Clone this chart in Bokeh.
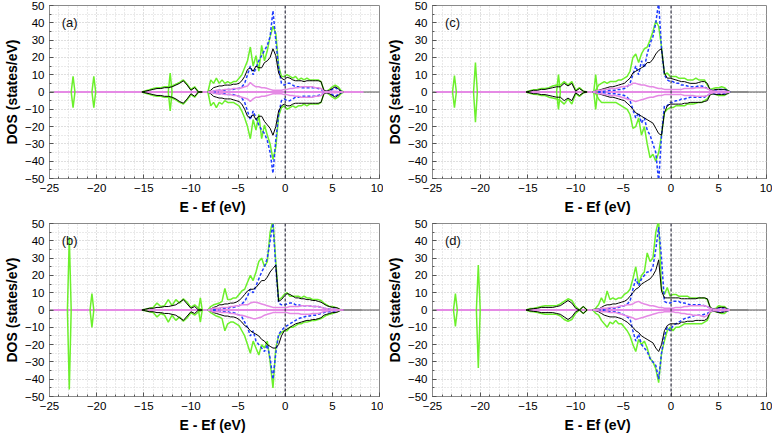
import numpy as np
from bokeh.plotting import figure
from bokeh.layouts import gridplot
from bokeh.models import Range1d, SingleIntervalTicker, Span, Label
from bokeh.embed import file_html
from bokeh.resources import INLINE

# ---------------- energy grids (eV, relative to Ef) ----------------
E_main = np.round(np.arange(-8.2, 6.21, 0.3), 2)   # 49 points
E_low = np.round(np.arange(-15.2, -8.79, 0.4), 2)  # 17 points

# ---------------- panel (a) ----------------
a_green_up = [0, 7, 5, 8, 5, 7, 5,
              6, 5, 6, 6, 8, 10, 14,
              18, 26, 15, 21, 12, 27, 18,
              24, 32, 38, 34, 15, 9, 9,
              10, 9, 8, 9, 7, 8, 7,
              8, 7, 7, 7, 7, 6, 1,
              0.5, 1.5, 3, 4, 3, 1, 0]
a_green_dn = [0, 8, 6, 9, 6, 7, 5,
              6, 6, 6, 7, 8, 11, 15,
              20, 27, 16, 22, 13, 27, 19,
              25, 30, 39, 32, 14, 9, 8,
              10, 9, 8, 9, 8, 8, 7,
              8, 7, 7, 7, 7, 6, 1,
              0.5, 1.5, 3, 4, 3, 1, 0]
a_black_up = [0, 1, 2.5, 3, 3.5, 3.5, 4,
              4, 4, 4.5, 4.5, 5, 6.5, 9,
              13, 14, 12, 15, 14, 14, 17,
              18, 20, 25, 21, 11, 8, 7,
              8.5, 8, 7, 6.5, 6.5, 6.5, 6,
              6.5, 6.5, 6.5, 6.5, 6.5, 6, 1,
              0.5, 1, 2, 3, 2, 0.5, 0]
a_black_dn = [0, 1, 2.5, 3, 3.5, 3.5, 4,
              4, 4, 4.5, 5, 5.5, 7, 10,
              14, 15, 13, 16, 14, 14, 17,
              19, 21, 25, 20, 11, 8, 7,
              8, 8, 7, 6.5, 6.5, 6.5, 6.5,
              6.5, 6.5, 6.5, 6.5, 6.5, 6, 1,
              0.5, 1, 2, 3, 2, 0.5, 0]
a_blue_up = [0, 0.5, 0.5, 0.5, 1, 1, 1,
             1.5, 1.5, 1.5, 2, 2, 3, 5,
             10, 15, 10, 14, 18, 21, 24,
             27, 32, 47, 30, 14, 5, 4,
             5, 5, 4, 3, 3, 2.5, 2.5,
             2.5, 2.5, 2.5, 2.5, 2, 1.5, 0.5,
             0.3, 0.5, 1.5, 2.5, 1.5, 0.5, 0]
a_blue_dn = [0, 0.5, 0.5, 0.5, 1, 1, 1,
             1.5, 1.5, 1.5, 2, 2.5, 3.5, 6,
             11, 16, 11, 15, 19, 22, 24,
             28, 35, 47, 28, 13, 5, 4,
             5, 5, 4, 3, 3, 2.5, 2.5,
             2.5, 2.5, 2.5, 2.5, 2, 1.5, 0.5,
             0.3, 0.5, 1.5, 2.5, 1.5, 0.5, 0]
a_violet_up = [0, 0.5, 0.5, 1, 1, 1, 1.5,
               1.5, 1.5, 2, 2, 2, 2.5, 3,
               3.5, 5.5, 4, 3, 3, 2.5, 2.5,
               2, 1.5, 1, 1, 1, 1, 1.5,
               1.5, 2, 2, 2.5, 2.5, 3, 3,
               3, 3, 3, 2.5, 2.5, 2, 0.5,
               0.3, 0.3, 0.5, 0.5, 0.3, 0.2, 0]
a_violet_dn = [0, 0.5, 0.5, 1, 1, 1, 1.5,
               1.5, 1.5, 2, 2, 2.5, 3, 3.5,
               4, 5.5, 4, 3, 3, 2.5, 2.5,
               2, 1.5, 1, 1, 1, 1, 1.5,
               1.5, 2, 2, 2.5, 2.5, 3, 3,
               3, 3, 3, 2.5, 2.5, 2, 0.5,
               0.3, 0.3, 0.5, 0.5, 0.3, 0.2, 0]
a_low_green_up = [0, 0.8, 1.3, 2, 2.5, 2.5, 3, 3, 3.5, 4.5, 5.5, 7, 4.5, 1.5, 3, 0, 0]
a_low_green_dn = [0, 0.8, 1.3, 2, 2.5, 2.5, 3, 3, 3.5, 4.5, 6, 7, 4.5, 1.5, 3, 0, 0]
a_low_black_up = [0, 0.5, 1, 1.5, 2, 2, 2.5, 2.5, 3, 4, 5, 6.5, 4, 1, 2.5, 0, 0]
a_low_black_dn = [0, 0.5, 1, 1.5, 2, 2, 2.5, 2.5, 3, 4, 5.5, 6.5, 4, 1, 2.5, 0, 0]
a_spike_E = [-22.5, -20.3, -12.2]
a_spike_up = [9, 9, 11]
a_spike_dn = [9, 9, 11]
a_base = [-24.5, 8.3]

# ---------------- panel (b) ----------------
b_green_up = [0, 2, 3, 3.5, 4, 5, 12.5,
              6, 6, 7, 7, 9, 11, 12,
              16, 20, 17, 22, 28, 30, 25,
              28, 45, 52, 28, 6, 7, 9,
              10, 8, 8, 8, 8, 7, 8,
              7, 7, 6, 6, 6, 5.5, 4,
              3, 2, 2, 1.5, 1, 0, 0]
b_green_dn = [0, 1.5, 2.5, 3.5, 4, 5, 12,
              8, 7, 7, 8, 9, 12, 15,
              20, 25, 18, 22, 26, 20, 22,
              18, 30, 45, 22, 15, 13, 12,
              12, 10, 10, 9, 8, 8, 7,
              7, 6.5, 6, 6, 5.5, 5, 4,
              3, 2.5, 2, 1.5, 1, 0, 0]
b_black_up = [0, 0.5, 1.5, 2, 3, 3, 3.5,
              3.5, 4, 4, 4.5, 5.5, 7, 9,
              11, 12, 12, 13, 15, 17, 17,
              19, 22, 24, 26, 5, 6, 8,
              9.5, 9, 8, 7, 7, 6.5, 6.5,
              6, 6, 5.5, 5.5, 5, 4.5, 3.5,
              2.5, 2, 1.5, 1.5, 1, 0, 0]
b_black_dn = [0, 0.5, 1.5, 2, 2.5, 3, 3.5,
              3.5, 4, 4, 4.5, 5.5, 7, 9,
              10, 12, 13, 14, 15, 17, 18,
              20, 21, 22, 22, 20, 15, 12,
              11, 10, 9, 8, 7.5, 7, 6.5,
              6, 6, 5.5, 5.5, 5, 4.5, 3,
              2.5, 2, 1.5, 1.5, 1, 0, 0]
b_blue_up = [0, 0.3, 0.5, 0.5, 0.8, 1, 1,
             1, 1.5, 1.5, 2, 2.5, 3.5, 5,
             8, 12, 10, 14, 18, 22, 25,
             30, 40, 50, 25, 4, 3, 3,
             3.5, 4, 4, 3, 3, 2.5, 2.5,
             2.5, 2.5, 2, 2, 2, 1.5, 1,
             0.8, 0.5, 0.5, 0.5, 0.3, 0, 0]
b_blue_dn = [0, 0.3, 0.5, 0.5, 0.8, 1, 1,
             1, 1.5, 1.5, 2, 3, 4, 7,
             10, 15, 12, 18, 20, 22, 24,
             20, 28, 40, 25, 14, 12, 10,
             9, 8, 7, 6, 5, 4.5, 4,
             3.5, 3.5, 3, 3, 2.5, 2, 1.5,
             1, 1, 1, 0.8, 0.5, 0, 0]
b_violet_up = [0, 0.5, 1, 1, 1, 1.5, 1.5,
               1.5, 2, 2, 2.5, 2.5, 3, 3,
               3, 4, 4.5, 4.5, 4, 3.5, 3,
               2.5, 2, 1.5, 1.5, 1.5, 1.5, 1.5,
               1.5, 2, 2, 2, 2, 2.5, 2.5,
               2.5, 2.5, 2, 2, 2, 1.5, 1,
               0.8, 0.5, 0.5, 0.5, 0.3, 0, 0]
b_violet_dn = [0, 0.5, 1, 1, 1, 1.5, 1.5,
               1.5, 2, 2, 2.5, 3, 3, 3.5,
               4, 4.5, 5, 5, 4.5, 4, 3,
               2.5, 2, 1.5, 1.5, 1.5, 1.5, 1.5,
               1.5, 2, 2, 2, 2, 2.5, 2.5,
               2.5, 2.5, 2, 2, 2, 1.5, 1,
               0.8, 0.5, 0.5, 0.5, 0.3, 0, 0]
b_low_green_up = [0, 0.5, 1, 1.5, 4, 2, 2.5, 6, 2.5, 6, 4, 6.5, 4.5, 1.5, 3, 1, 0]
b_low_green_dn = [0, 0.5, 1, 1.5, 4, 2, 3, 7, 3, 6, 4, 6.5, 4.5, 1.5, 3, 1, 0]
b_low_black_up = [0, 0.5, 1, 1, 1.5, 1.5, 2, 2, 2.5, 3, 4.5, 6, 3.5, 1, 2, 0, 0]
b_low_black_dn = [0, 0.5, 1, 1, 1.5, 1.5, 2, 2, 2.5, 3, 4.5, 6, 3.5, 1, 2, 0, 0]
b_spike_E = [-22.9, -20.5, -9.0]
b_spike_up = [42, 9.5, 7]
b_spike_dn = [46, 10, 7]
b_base = [-24.6, 5.8]

# ---------------- panel (c) ----------------
c_green_up = [0, 1, 4, 5, 6, 5, 6,
              6, 6, 7, 7, 8, 9, 12,
              20, 22, 17, 22, 25, 26, 30,
              35, 41, 38, 26, 10, 11, 9,
              9, 9, 8, 8, 8, 7, 7,
              7, 8, 7, 7, 7, 4, 1.5,
              2, 2.5, 2.5, 3, 2.5, 1, 0]
c_green_dn = [0, 1, 4, 6, 6, 6, 6,
              6, 6, 7, 8, 9, 10, 13,
              21, 20, 15, 25, 20, 30, 38,
              36, 40, 35, 25, 12, 10, 9,
              9, 8, 8, 8, 8, 7, 7,
              7, 6.5, 6, 6, 5, 4, 1.5,
              1, 1.5, 2, 2, 2, 1, 0]
c_black_up = [0, 0.5, 1, 1.5, 2, 2.5, 3,
              3, 3.5, 4, 4.5, 5, 6.5, 8,
              11, 12, 13, 14, 15, 17, 17,
              19, 22, 24, 25, 11, 8, 8,
              7.5, 7, 6.5, 6, 6, 5.5, 5,
              5, 5, 5.5, 6, 6, 5, 1,
              1, 1.5, 1.5, 1.5, 1.5, 1, 0]
c_black_dn = [0, 0.5, 1, 1.5, 2, 2.5, 3,
              3, 3.5, 4, 4.5, 5, 6.5, 8,
              10, 12, 13, 14, 15, 16, 17,
              18, 21, 24, 25, 12, 8, 7,
              7, 7, 7, 7, 6.5, 6.5, 6,
              6, 6, 6, 6, 5.5, 5, 1.5,
              1, 1.5, 1.5, 1.5, 1.5, 1, 0]
c_blue_up = [0, 0.3, 0.5, 0.5, 0.5, 0.8, 1,
             1, 1, 1.5, 1.5, 2, 3, 5,
             10, 15, 10, 18, 14, 22, 28,
             32, 40, 52, 25, 10, 7, 6,
             6, 5, 5, 4, 4, 3.5, 3,
             3, 3, 3.5, 3.5, 3, 2, 1,
             1, 1, 1.5, 1.5, 1.5, 1, 0]
c_blue_dn = [0, 0.3, 0.5, 0.5, 0.5, 0.8, 1,
             1, 1, 1.5, 1.5, 2, 3, 5,
             10, 15, 12, 18, 15, 22, 25,
             30, 35, 52, 25, 8, 8, 6,
             6, 5, 5, 4, 4, 3.5, 3,
             3, 3, 3, 3, 3, 2, 1,
             1, 1, 1, 1, 1, 0.5, 0]
c_violet_up = [0, 0.5, 1, 1, 1.5, 1.5, 2,
               2, 2, 2.5, 3, 3, 3.5, 4,
               5, 5, 4.5, 4, 4, 3.5, 3,
               3, 2.5, 2, 2, 1.5, 1.5, 1.5,
               1.5, 1.5, 1.5, 1.5, 2, 2, 2,
               2, 2.5, 2.5, 2.5, 2.5, 2, 1,
               0.5, 0.5, 0.5, 0.5, 0.5, 0.3, 0]
c_violet_dn = [0, 0.5, 1, 1, 1.5, 1.5, 2,
               2, 2, 2.5, 3, 3.5, 4, 4.5,
               5, 5.5, 5, 4.5, 4, 3.5, 3,
               3, 2.5, 2, 2, 1.5, 1.5, 1.5,
               1.5, 1.5, 1.5, 1.5, 2, 2, 2,
               2, 2.5, 2.5, 2.5, 2.5, 2, 1,
               0.5, 0.5, 0.5, 0.5, 0.5, 0.3, 0]
c_low_green_up = [0, 0.8, 1.3, 1.5, 2, 2, 2.5, 3.5, 4, 4, 6, 4, 6, 1, 2.5, 0.5, 0]
c_low_green_dn = [0, 0.8, 1.3, 1.5, 2, 2, 3, 3.5, 4, 5, 7, 4, 7, 1, 2.5, 0.5, 0]
c_low_black_up = [0, 0.5, 1, 1, 1.5, 1.5, 2, 2.5, 3, 3, 5, 3.5, 5, 0.5, 2, 0.5, 0]
c_low_black_dn = [0, 0.5, 1, 1, 1.5, 1.5, 2, 2.5, 3, 3, 5, 3.5, 5, 0.5, 2, 0.5, 0]
c_spike_E = [-22.7, -20.5, -11.8, -7.9]
c_spike_up = [9.5, 17, 10, 10]
c_spike_dn = [9, 17.5, 10, 10]
c_base = [-24.7, 6.0]

# ---------------- panel (d) ----------------
d_green_up = [0, 1, 3, 7, 4, 11, 6,
              7, 6, 7, 7, 9, 10, 12,
              18, 25, 15, 20, 22, 33, 28,
              30, 45, 52, 12, 9, 13, 8,
              9, 9, 8, 8, 8, 8, 7,
              7, 7, 7, 7, 7, 6, 1.5,
              0.5, 1, 2.5, 2, 2, 0.5, 0]
d_green_dn = [0, 2, 3, 6, 8, 10, 7,
              8, 6, 8, 8, 10, 12, 15,
              20, 24, 17, 20, 18, 22, 28,
              30, 34, 42, 25, 18, 12, 10,
              12, 10, 10, 9, 8, 8, 8,
              8, 8, 8, 8, 7, 6, 1.5,
              0.5, 1, 1.5, 2, 2, 0.5, 0]
d_black_up = [0, 0.5, 0.5, 1.5, 2.5, 3, 3,
              3.5, 3.5, 4, 4.5, 5, 6, 8,
              10, 12, 13, 15, 16, 17, 18,
              20, 23, 29, 11, 7, 7, 7,
              7, 7, 7, 6.5, 6.5, 6.5, 6.5,
              6.5, 6.5, 7, 7, 7, 6.5, 1.5,
              0.5, 0.5, 1.5, 1.5, 1.5, 0.5, 0]
d_black_dn = [0, 0.5, 1, 2, 3, 3.5, 4,
              4, 4, 4.5, 5, 6, 7, 8.5,
              10, 12, 13, 15, 16, 17, 18,
              19, 22, 24, 20, 12, 9, 8,
              8, 8, 8, 7, 7, 6.5, 6.5,
              6.5, 6, 6, 6, 6, 5, 1,
              0.5, 1, 1.5, 1.5, 1, 0.5, 0]
d_blue_up = [0, 0.3, 0.5, 0.5, 0.5, 0.8, 1,
             1, 1, 1.5, 2, 2.5, 3.5, 5,
             12, 18, 14, 18, 20, 22, 22,
             25, 35, 48, 30, 5, 4, 4,
             5, 5, 5, 4, 4, 3.5, 3,
             3, 3, 3, 3, 2.5, 2, 1,
             0.5, 0.5, 1, 1, 1, 0.5, 0]
d_blue_dn = [0, 0.3, 0.5, 0.5, 0.5, 0.8, 1,
             1, 1, 1.5, 2, 3, 4, 5,
             12, 18, 14, 20, 22, 24, 28,
             30, 32, 40, 25, 15, 10, 12,
             9, 8, 7, 6, 5, 4.5, 4,
             3.5, 3, 3, 3, 2.5, 2, 1,
             0.5, 0.5, 1, 1, 1, 0.5, 0]
d_violet_up = [0, 0.3, 0.5, 1, 1, 1, 1.5,
               1.5, 1.5, 2, 2.5, 2.5, 3, 3,
               3.5, 4.5, 5, 4, 3.5, 3, 2.5,
               2.5, 2, 1.5, 1.5, 1, 1, 1,
               1, 1.5, 1.5, 1.5, 2, 2, 2.5,
               2.5, 2.5, 2.5, 2.5, 2.5, 2, 1,
               0.5, 0.5, 0.5, 0.5, 0.5, 0.3, 0]
d_violet_dn = [0, 0.3, 0.5, 1, 1, 1, 1.5,
               1.5, 1.5, 2, 2.5, 3, 3.5, 4,
               4.5, 5.5, 5, 4.5, 4, 3.5, 3,
               2.5, 2, 1.5, 1.5, 1, 1, 1,
               1, 1.5, 1.5, 2, 2, 2.5, 2.5,
               3, 3, 3, 3.5, 4, 3, 1,
               0.5, 0.5, 0.5, 0.5, 0.5, 0.3, 0]
d_low_green_up = [0, 0.8, 1, 1.5, 2, 2.5, 2.5, 2.5, 2.5, 3.5, 5, 6.5, 5.5, 2, 0, 2, 0]
d_low_green_dn = [0, 0.8, 1, 1.5, 2, 2.5, 2.5, 2.5, 2.5, 3.5, 5.5, 6.5, 5.5, 2, 0, 2, 0]
d_low_black_up = [0, 0.5, 0.8, 1, 1.5, 1.5, 1.5, 1.5, 2, 2.5, 4, 5.5, 4, 1, 0, 2, 0]
d_low_black_dn = [0, 0.5, 0.8, 1, 1.5, 1.5, 1.5, 1.5, 2, 2.5, 4, 5.5, 4, 1, 0, 2, 0]
d_spike_E = [-22.6, -20.2]
d_spike_up = [9.5, 26]
d_spike_dn = [9.5, 33.5]
d_base = [-24.6, 5.8]

gray_base = [-15.2, 8.1]
panel_tags = ["(a)", "(b)", "(c)", "(d)"]
x_title = "E - Ef  (eV)"
y_title = "DOS (states/eV)"

GREEN = "#6cf02c"
BLUE = "#1f3cff"
BLACK = "#000000"
VIOLET = "#e58ae5"
FONT = "Liberation Sans"


def neg(vals):
    return [-v for v in vals]


def make_panel(tag, lg_up, lg_dn, lk_up, lk_dn, g_up, g_dn, k_up, k_dn,
               b_up, b_dn, v_up, v_dn, sp_E, sp_up, sp_dn, base,
               width, height, left, right):
    p = figure(width=width, height=height, x_range=Range1d(-25, 10), y_range=Range1d(-50, 50),
               output_backend="svg", toolbar_location=None,
               min_border_left=left, min_border_right=right, min_border_top=5,
               min_border_bottom=40)
    p.background_fill_color = "white"
    p.outline_line_color = "#8a8a8a"
    p.outline_line_width = 1

    p.xaxis.ticker = SingleIntervalTicker(interval=5, num_minor_ticks=5)
    p.yaxis.ticker = SingleIntervalTicker(interval=10, num_minor_ticks=2)
    for ax in (p.xaxis[0], p.yaxis[0]):
        ax.axis_line_color = "#8a8a8a"
        ax.major_tick_line_color = "#555555"
        ax.minor_tick_line_color = "#555555"
        ax.major_tick_in = 4
        ax.major_tick_out = 0
        ax.minor_tick_in = 2
        ax.minor_tick_out = 0
        ax.major_label_text_font = FONT
        ax.major_label_text_font_size = "11.5px"
        ax.major_label_text_color = "#000000"
        ax.major_label_standoff = 5
        ax.axis_label_text_font = FONT
        ax.axis_label_text_font_size = "14px"
        ax.axis_label_text_font_style = "bold"
        ax.axis_label_text_color = "#000000"
    p.yaxis.axis_label = y_title
    p.yaxis.axis_label_standoff = 2
    p.xaxis.axis_label = x_title
    p.xaxis.axis_label_standoff = 4

    for g in (p.xgrid[0], p.ygrid[0]):
        g.grid_line_color = "#d4d4d4"
        g.grid_line_dash = "1 2"
        g.minor_grid_line_color = "#d4d4d4"
        g.minor_grid_line_dash = "1 2"

    # zero baseline
    p.add_layout(Span(location=0, dimension="width", line_color="#555555",
                      line_width=1, level="underlay"))
    p.line(gray_base, [0, 0], line_color="#8c8c8c", line_width=2.2)
    p.line(base, [0, 0], line_color=VIOLET, line_width=1.8)

    # green: total DOS
    p.line(E_low, lg_up, line_color=GREEN, line_width=1.5)
    p.line(E_low, neg(lg_dn), line_color=GREEN, line_width=1.5)
    p.line(E_main, g_up, line_color=GREEN, line_width=1.5)
    p.line(E_main, neg(g_dn), line_color=GREEN, line_width=1.5)
    xs, ys = [], []
    for c, h, d in zip(sp_E, sp_up, sp_dn):
        xs.append([c - 0.2, c, c + 0.2, c, c - 0.2])
        ys.append([0, h, 0, -d, 0])
    p.multi_line(xs, ys, line_color=GREEN, line_width=1.5)

    # blue dashed
    p.line(E_main, b_up, line_color=BLUE, line_width=1.5, line_dash="3 2")
    p.line(E_main, neg(b_dn), line_color=BLUE, line_width=1.5, line_dash="3 2")

    # black
    p.line(E_low, lk_up, line_color=BLACK, line_width=1)
    p.line(E_low, neg(lk_dn), line_color=BLACK, line_width=1)
    p.line(E_main, k_up, line_color=BLACK, line_width=1)
    p.line(E_main, neg(k_dn), line_color=BLACK, line_width=1)

    # violet
    p.line(E_main, v_up, line_color=VIOLET, line_width=1.5)
    p.line(E_main, neg(v_dn), line_color=VIOLET, line_width=1.5)

    # Fermi level
    p.add_layout(Span(location=0, dimension="height", line_color="#333344",
                      line_width=1.2, line_dash="3 2"))

    p.add_layout(Label(x=-23.7, y=40, text=tag, text_font=FONT, text_font_size="13px",
                       text_baseline="middle", text_align="left", text_color="#111111"))
    return p


pa = make_panel(panel_tags[0], a_low_green_up, a_low_green_dn, a_low_black_up, a_low_black_dn,
                a_green_up, a_green_dn, a_black_up, a_black_dn, a_blue_up, a_blue_dn,
                a_violet_up, a_violet_dn, a_spike_E, a_spike_up, a_spike_dn, a_base,
                383, 218, 40, 4)
pb = make_panel(panel_tags[1], b_low_green_up, b_low_green_dn, b_low_black_up, b_low_black_dn,
                b_green_up, b_green_dn, b_black_up, b_black_dn, b_blue_up, b_blue_dn,
                b_violet_up, b_violet_dn, b_spike_E, b_spike_up, b_spike_dn, b_base,
                383, 218, 40, 4)
pc = make_panel(panel_tags[2], c_low_green_up, c_low_green_dn, c_low_black_up, c_low_black_dn,
                c_green_up, c_green_dn, c_black_up, c_black_dn, c_blue_up, c_blue_dn,
                c_violet_up, c_violet_dn, c_spike_E, c_spike_up, c_spike_dn, c_base,
                389, 218, 43, 6)
pd_ = make_panel(panel_tags[3], d_low_green_up, d_low_green_dn, d_low_black_up, d_low_black_dn,
                 d_green_up, d_green_dn, d_black_up, d_black_dn, d_blue_up, d_blue_dn,
                 d_violet_up, d_violet_dn, d_spike_E, d_spike_up, d_spike_dn, d_base,
                 389, 218, 43, 6)

grid = gridplot([[pa, pc], [pb, pd_]], toolbar_location=None)
open("out.html", "w").write(file_html(grid, INLINE))
